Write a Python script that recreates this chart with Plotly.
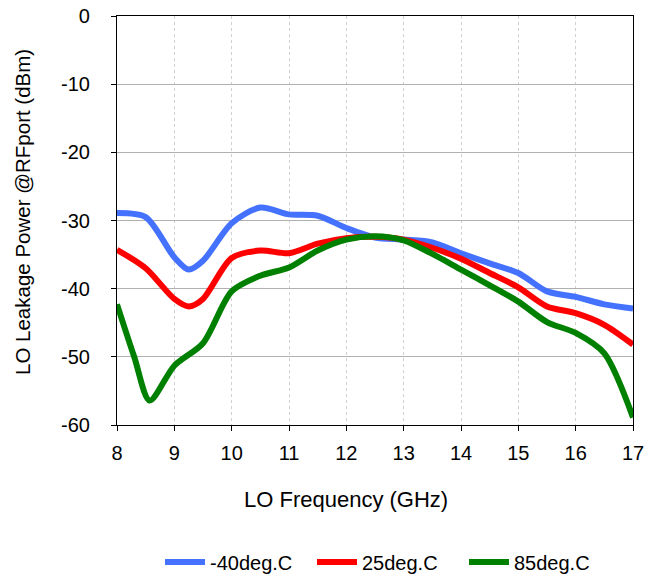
import plotly.graph_objects as go

freq_blue = [8, 8.5, 9, 9.25, 9.5, 10, 10.5, 11, 11.5, 12, 12.5, 13, 13.5, 14, 14.5, 15, 15.5, 16, 16.5, 17]
m40 = [-28.9, -29.5, -35.4, -37.2, -35.9, -30.4, -28.1, -29.1, -29.3, -31.1, -32.5, -32.8, -33.2, -34.8, -36.3, -37.7, -40.4, -41.2, -42.3, -42.9]

freq_red = [8, 8.5, 9, 9.25, 9.5, 10, 10.5, 11, 11.5, 12, 12.5, 13, 13.5, 14, 14.5, 15, 15.5, 16, 16.5, 17]
p25 = [-34.3, -37.0, -41.5, -42.6, -41.5, -35.5, -34.4, -34.8, -33.4, -32.6, -32.4, -32.8, -34.0, -35.6, -37.7, -39.8, -42.6, -43.6, -45.3, -48.2]

freq_green = [8, 8.3, 8.57, 9, 9.5, 10, 10.5, 11, 11.5, 12, 12.5, 13, 13.5, 14, 14.5, 15, 15.5, 16, 16.5, 17]
p85 = [-42.3, -50.0, -56.4, -51.3, -48.0, -40.4, -38.1, -36.9, -34.4, -32.8, -32.3, -32.9, -34.9, -37.2, -39.5, -41.9, -44.9, -46.5, -49.5, -58.9]

x_ticks = [8, 9, 10, 11, 12, 13, 14, 15, 16, 17]
y_ticks = [0, -10, -20, -30, -40, -50, -60]

font_family = "Liberation Sans, Arial, sans-serif"

# plot area in pixels
L, R, T, B = 117, 633, 16, 425
W, H = R - L, B - T

fig = go.Figure()
for xs, ys, name, color in [
    (freq_blue, m40, "-40deg.C", "#4472FF"),
    (freq_red, p25, "25deg.C", "#FF0000"),
    (freq_green, p85, "85deg.C", "#008000"),
]:
    fig.add_trace(go.Scatter(x=xs, y=ys, name=name, mode="lines",
                             line=dict(color=color, width=6, shape="spline", smoothing=0.8)))

fig.update_layout(
    width=646, height=577,
    margin=dict(l=L, r=646 - R, t=T, b=577 - B, autoexpand=False),
    paper_bgcolor="white", plot_bgcolor="white",
    font=dict(family=font_family, size=20, color="black"),
    showlegend=True,
    legend=dict(orientation="h", x=(160 - L) / W, xanchor="left",
                y=(B - 562) / H, yanchor="middle",
                font=dict(size=20), itemwidth=40, tracegroupgap=0,
                entrywidth=97, entrywidthmode="pixels"),
    annotations=[
        dict(text="LO Frequency (GHz)", xref="paper", yref="paper",
             x=(346 - L) / W, y=(B - 500) / H, xanchor="center", yanchor="middle",
             showarrow=False, font=dict(size=22)),
        dict(text="LO Leakage Power @RFport (dBm)", xref="paper", yref="paper",
             x=(22 - L) / W, y=(B - 212) / H, xanchor="center", yanchor="middle",
             textangle=-90, showarrow=False, font=dict(size=20.5)),
    ],
)
fig.update_xaxes(
    range=[8, 17], tickvals=x_ticks, ticktext=[str(v) for v in x_ticks],
    showline=True, linecolor="black", linewidth=1.2, mirror=True,
    ticks="outside", ticklen=5, tickcolor="black", ticklabelstandoff=5,
    showgrid=True, gridcolor="#d0d0d0", griddash="dot", gridwidth=1,
    zeroline=False, automargin=False,
)
fig.update_yaxes(
    range=[-60, 0], tickvals=y_ticks, ticktext=[str(v) for v in y_ticks],
    showline=True, linecolor="black", linewidth=1.2, mirror=True,
    ticks="outside", ticklen=5, tickcolor="black", ticklabelstandoff=17,
    showgrid=True, gridcolor="#b0b0b0", gridwidth=1.2,
    zeroline=False, automargin=False,
)

fig.write_html("out.html")
